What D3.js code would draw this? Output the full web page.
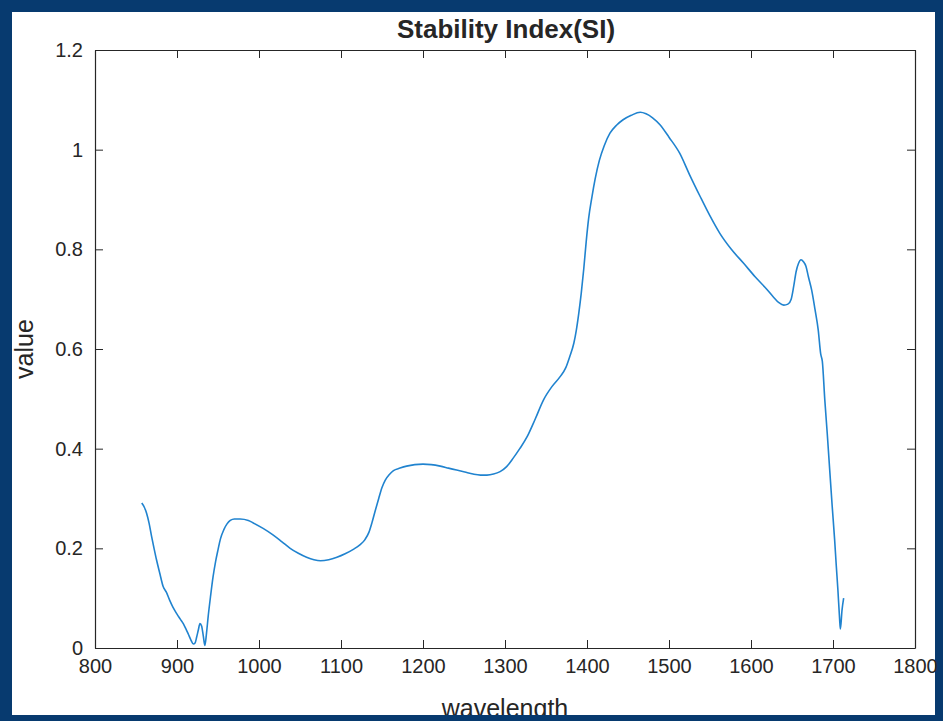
<!DOCTYPE html>
<html>
<head>
<meta charset="utf-8">
<script src="https://cdn.jsdelivr.net/npm/d3@7"></script>
<style>
  body { margin: 0; background: #073a6f; }
  text { font-family: "Liberation Sans", Arial, sans-serif; fill: #262626; }
</style>
</head>
<body>
<div id="chart"></div>
<script>
// Data
var wavelength = [857, 860, 863, 866, 869, 872, 875, 879, 883, 887, 891, 895, 900, 904, 908, 911, 914, 917, 920, 922,
  924, 926, 928, 930, 932, 934, 936, 938, 941, 944, 947, 950, 953, 957, 961, 965, 970, 977, 987, 993,
  1005, 1017, 1028, 1038, 1048, 1058, 1067, 1075, 1085, 1095, 1105, 1115, 1123, 1129, 1134, 1138, 1142, 1146, 1150, 1154,
  1159, 1164, 1172, 1180, 1190, 1200, 1210, 1221, 1231, 1241, 1251, 1261, 1270, 1278, 1286, 1294, 1302, 1310, 1318, 1327,
  1337, 1347, 1357, 1367, 1374, 1379, 1384, 1387, 1390, 1393, 1396, 1399, 1402, 1406, 1410, 1415, 1421, 1428, 1436,
  1444, 1454, 1465, 1472, 1480, 1489, 1500, 1513, 1525, 1538, 1550, 1562, 1576, 1591, 1605, 1617, 1627, 1634, 1640, 1645,
  1649, 1652, 1655, 1658, 1661, 1664, 1667, 1670, 1674, 1678, 1682, 1685, 1687, 1690, 1693, 1696, 1699, 1702, 1704, 1706,
  1708, 1709, 1711, 1713];
var siValue = [0.291, 0.283, 0.270, 0.250, 0.224, 0.200, 0.177, 0.150, 0.124, 0.112, 0.096, 0.082, 0.068, 0.058, 0.048, 0.038, 0.027, 0.016, 0.008, 0.010,
  0.022, 0.036, 0.049, 0.044, 0.025, 0.005, 0.030, 0.063, 0.105, 0.143, 0.173, 0.197, 0.219, 0.237, 0.249, 0.256, 0.259, 0.259, 0.256, 0.251,
  0.240, 0.227, 0.213, 0.200, 0.190, 0.182, 0.177, 0.175, 0.177, 0.182, 0.189, 0.198, 0.207, 0.217, 0.232, 0.253, 0.277, 0.300, 0.322, 0.337,
  0.348, 0.356, 0.361, 0.365, 0.368, 0.369, 0.368, 0.365, 0.361, 0.357, 0.353, 0.349, 0.347, 0.347, 0.349, 0.354, 0.364, 0.381, 0.400, 0.424,
  0.460, 0.498, 0.524, 0.544, 0.562, 0.585, 0.612, 0.638, 0.672, 0.712, 0.760, 0.815, 0.862, 0.905, 0.942, 0.978, 1.008, 1.033, 1.049,
  1.060, 1.069, 1.075, 1.072, 1.064, 1.050, 1.025, 0.993, 0.950, 0.906, 0.867, 0.832, 0.800, 0.772, 0.745, 0.724, 0.705, 0.693, 0.688, 0.690,
  0.700, 0.725, 0.755, 0.772, 0.779, 0.775, 0.766, 0.745, 0.718, 0.680, 0.638, 0.590, 0.575, 0.498, 0.430, 0.357, 0.285, 0.217, 0.165, 0.116,
  0.060, 0.038, 0.076, 0.100];
var xTicks = [800, 900, 1000, 1100, 1200, 1300, 1400, 1500, 1600, 1700, 1800];
var yTicks = [0, 0.2, 0.4, 0.6, 0.8, 1, 1.2];

var svgWidth = 943;
var svgHeight = 721;

var margin = { top: 50, right: 28, bottom: 73, left: 95 };
var chartWidth = svgWidth - margin.left - margin.right;
var chartHeight = svgHeight - margin.top - margin.bottom;

var svg = d3.select("#chart")
  .append("svg")
  .attr("width", svgWidth)
  .attr("height", svgHeight)
  .style("display", "block");

// blue frame with white figure area
svg.append("rect")
  .attr("width", svgWidth).attr("height", svgHeight)
  .attr("fill", "#073a6f");
svg.append("rect")
  .attr("x", 12).attr("y", 12)
  .attr("width", 923).attr("height", 703)
  .attr("fill", "#ffffff");

var chartGroup = svg.append("g")
  .attr("transform", `translate(${margin.left}, ${margin.top})`);

var xScale = d3.scaleLinear().domain([800, 1800]).range([0, chartWidth]);
var yScale = d3.scaleLinear().domain([0, 1.2]).range([chartHeight, 0]);

// axes: ticks pointing inward, box on all sides
var bottomAxis = d3.axisBottom(xScale).tickValues(xTicks).tickSizeInner(-8).tickSizeOuter(0).tickPadding(14).tickFormat(d3.format("d"));
var leftAxis = d3.axisLeft(yScale).tickValues(yTicks).tickSizeInner(-8).tickSizeOuter(0).tickPadding(12).tickFormat(d => d === 0 || d === 1 ? d3.format("d")(d) : d3.format(".1f")(d));
var topAxis = d3.axisTop(xScale).tickValues(xTicks).tickSizeInner(-8).tickSizeOuter(0).tickFormat("");
var rightAxis = d3.axisRight(yScale).tickValues(yTicks).tickSizeInner(-8).tickSizeOuter(0).tickFormat("");

var gx = chartGroup.append("g").attr("transform", `translate(0, ${chartHeight})`).call(bottomAxis);
var gy = chartGroup.append("g").call(leftAxis);
var gt = chartGroup.append("g").call(topAxis);
var gr = chartGroup.append("g").attr("transform", `translate(${chartWidth}, 0)`).call(rightAxis);

[gx, gy, gt, gr].forEach(function(g) {
  g.selectAll(".domain").attr("stroke", "#262626").attr("stroke-width", 1.2);
  g.selectAll(".tick line").attr("stroke", "#262626").attr("stroke-width", 1);
  g.selectAll(".tick text").attr("font-size", 20).attr("fill", "#262626");
});
gx.selectAll(".tick text").attr("dy", "0.55em");

// the series
var points = wavelength.map((w, i) => [w, siValue[i]]);
var line = d3.line()
  .x(d => xScale(d[0]))
  .y(d => yScale(d[1]))
  .curve(d3.curveMonotoneX);

chartGroup.append("path")
  .datum(points)
  .attr("fill", "none")
  .attr("stroke", "#2083cf")
  .attr("stroke-width", 1.6)
  .attr("d", line);

// title and labels
svg.append("text")
  .attr("x", 506).attr("y", 38)
  .attr("text-anchor", "middle")
  .attr("font-size", 26)
  .attr("font-weight", "bold")
  .attr("fill", "#000")
  .text("Stability Index(SI)");

svg.append("text")
  .attr("x", 505).attr("y", 717)
  .attr("text-anchor", "middle")
  .attr("font-size", 25)
  .text("wavelength");

svg.append("text")
  .attr("transform", "translate(33, 349) rotate(-90)")
  .attr("text-anchor", "middle")
  .attr("font-size", 25)
  .text("value");

// bottom strip of frame overlaps the x label a little
svg.append("rect")
  .attr("x", 0).attr("y", 715)
  .attr("width", svgWidth).attr("height", 6)
  .attr("fill", "#073a6f");
</script>
</body>
</html>
